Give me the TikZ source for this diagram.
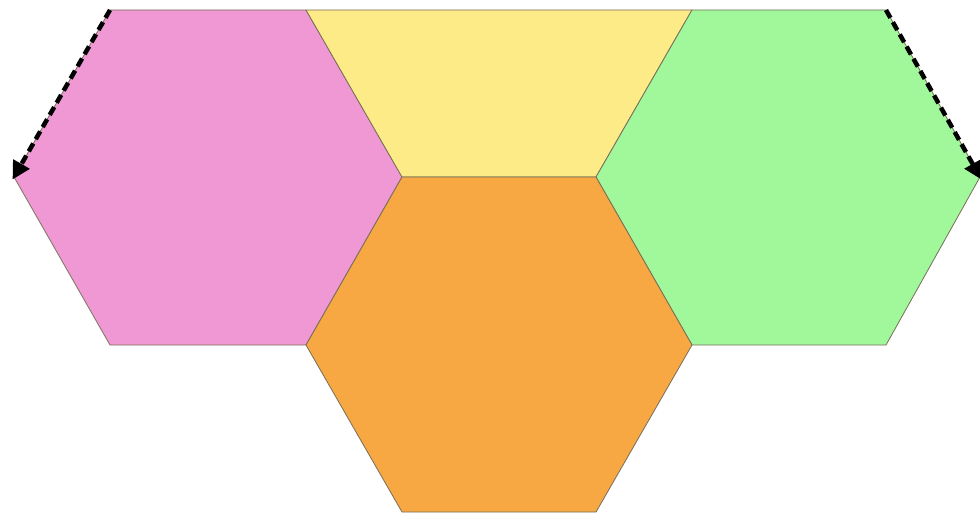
\documentclass[tikz,border=0pt]{standalone}
\usetikzlibrary{arrows.meta}
\definecolor{hpink}{RGB}{240,152,212}
\definecolor{hyellow}{RGB}{253,235,135}
\definecolor{hgreen}{RGB}{160,248,155}
\definecolor{horange}{RGB}{247,168,66}
\definecolor{hedge}{RGB}{120,110,90}
\tikzset{
  hexface/.style={draw=hedge, line width=0.8pt, line join=round},
  dasharrow/.style={black, line width=4.5pt, dash pattern=on 9pt off 5pt, -{Triangle[length=18pt,width=18pt]}, shorten >=-3pt}
}
\begin{document}
\begin{tikzpicture}[x=1pt,y=-1pt]
\useasboundingbox[fill=white] (0,0) rectangle (980,524);
% vertices
\coordinate (p1) at (110,10);
\coordinate (p2) at (306,10);
\coordinate (c1) at (402,177);
\coordinate (p4) at (306,345);
\coordinate (p5) at (110,345);
\coordinate (p6) at (14,177);
\coordinate (g1) at (692,10);
\coordinate (g2) at (886,10);
\coordinate (g3) at (980,177);
\coordinate (g4) at (886,345);
\coordinate (g5) at (692,345);
\coordinate (c2) at (596,177);
\coordinate (o4) at (596,512);
\coordinate (o5) at (402,512);
% faces
\path[hexface, fill=hpink] (p1) -- (p2) -- (c1) -- (p4) -- (p5) -- (p6) -- cycle;
\path[hexface, fill=hyellow] (p2) -- (g1) -- (c2) -- (c1) -- cycle;
\path[hexface, fill=hgreen] (g1) -- (g2) -- (g3) -- (g4) -- (g5) -- (c2) -- cycle;
\path[hexface, fill=horange] (c1) -- (c2) -- (g5) -- (o4) -- (o5) -- (p4) -- cycle;
% arrows
\draw[dasharrow] (p1) -- (p6);
\draw[dasharrow] (g2) -- (g3);
\end{tikzpicture}
\end{document}
